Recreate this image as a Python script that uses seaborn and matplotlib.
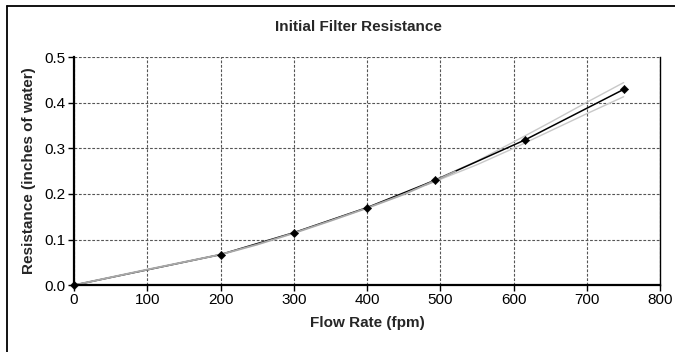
import matplotlib
matplotlib.use('Agg')
import matplotlib.pyplot as plt
import seaborn as sns
import pandas as pd
from matplotlib.lines import Line2D

# measured points
flow = [0, 200, 300, 400, 493, 615, 750]
resistance = [0.0, 0.067, 0.115, 0.170, 0.230, 0.318, 0.429]

# grey trend curve (visible up to ~520 fpm)
fit_x = [0, 100, 200, 250, 300, 350, 400, 450, 500, 520]
fit_y = [0.0, 0.034, 0.067, 0.089, 0.114, 0.141, 0.169, 0.199, 0.234, 0.249]

# grey band lines near the top end
band_x = [480, 550, 600, 650, 700, 750]
band_upper = [0.222, 0.272, 0.314, 0.357, 0.401, 0.444]
band_lower = [0.219, 0.264, 0.300, 0.338, 0.376, 0.413]

sns.set_style('white')
plt.rcParams['font.family'] = ['Liberation Sans Narrow', 'Liberation Sans', 'DejaVu Sans']

fig = plt.figure(figsize=(6.75, 3.52), dpi=100)
ax = fig.add_axes([0.1096, 0.190, 0.8686, 0.648])

df = pd.DataFrame({'flow': flow, 'res': resistance})
fit = pd.DataFrame({'x': fit_x, 'y': fit_y})
band = pd.DataFrame({'x': band_x, 'up': band_upper, 'lo': band_lower})

sns.lineplot(data=band, x='x', y='up', ax=ax, color='#c8c8c8', lw=1)
sns.lineplot(data=band, x='x', y='lo', ax=ax, color='#c8c8c8', lw=1)
sns.lineplot(data=df, x='flow', y='res', ax=ax, color='black', lw=1.1)
sns.lineplot(data=fit, x='x', y='y', ax=ax, color='#a8a8a8', lw=1.4)
sns.scatterplot(data=df, x='flow', y='res', ax=ax, color='black', marker='D',
                s=18, edgecolor='black', zorder=5, clip_on=False)

ax.set_xlim(0, 800)
ax.set_ylim(0, 0.5)
ax.set_xticks(range(0, 801, 100))
ax.set_yticks([0.0, 0.1, 0.2, 0.3, 0.4, 0.5])
ax.set_yticklabels([f'{v:.1f}' for v in [0.0, 0.1, 0.2, 0.3, 0.4, 0.5]])
ax.grid(True, color='#555555', linestyle=(0, (2.5, 1.5)), lw=0.8)
ax.set_axisbelow(True)
for s in ['left', 'bottom']:
    ax.spines[s].set_linewidth(1.6)
    ax.spines[s].set_color('black')
ax.spines['right'].set_linewidth(1.0)
ax.spines['right'].set_color('black')
ax.spines['top'].set_visible(False)
ax.tick_params(axis='both', labelsize=11, length=4, width=1, direction='out',
               colors='black', bottom=True, left=True, pad=2)

ax.set_xlabel('Flow Rate (fpm)', fontsize=11, fontweight='bold', labelpad=6)
ax.set_ylabel('Resistance (inches of water)', fontsize=11, fontweight='bold', labelpad=6)
fig.text(0.5305, 0.923, 'Initial Filter Resistance', ha='center', va='center',
         fontsize=11, fontweight='bold')

# outer frame, only top and left edges visible in the crop
fig.add_artist(Line2D([0.0104, 1.0], [0.983, 0.983], color='black', lw=1.3,
                      transform=fig.transFigure))
fig.add_artist(Line2D([0.0104, 0.0104], [0.0, 0.983], color='black', lw=1.3,
                      transform=fig.transFigure))

fig.savefig('out.png', dpi=100)
